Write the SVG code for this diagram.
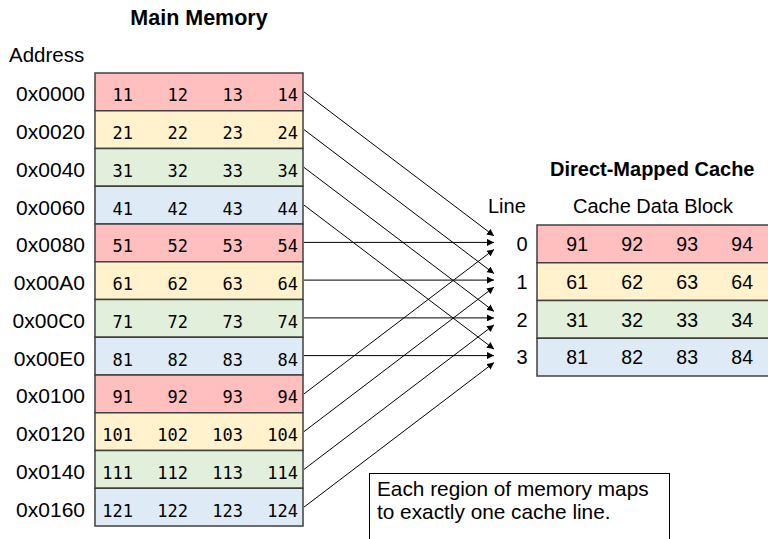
<svg xmlns="http://www.w3.org/2000/svg" width="768" height="539" viewBox="0 0 768 539">
<defs>
<style>
.t{font-family:"Liberation Sans",Arial,sans-serif;font-size:20px;fill:#000}
.ad{font-size:21px;text-anchor:end}
.b{font-weight:bold}
.m{font-family:"DejaVu Sans Mono","Liberation Mono",monospace;font-size:17px;fill:#000;text-anchor:end}
.c{font-family:"Liberation Sans",Arial,sans-serif;font-size:19.5px;fill:#000;text-anchor:end}
.r{fill:#FFBFBF}.y{fill:#FFF2CC}.g{fill:#E2EFDA}.u{fill:#DEEBF7}
.cell{stroke:#404040;stroke-width:1.5}
.a{stroke:#000;stroke-width:1;fill:none;marker-end:url(#ah)}
</style>
<marker id="ah" viewBox="0 0 8 8" refX="8" refY="4" markerWidth="7" markerHeight="7" markerUnits="userSpaceOnUse" orient="auto">
<path d="M0,0 L8,4 L0,8 z" fill="#000"/>
</marker>
</defs>
<rect width="768" height="539" fill="#fff"/>
<text class="t b" x="199" y="25" text-anchor="middle" style="font-size:21.5px">Main Memory</text>
<text class="t" x="9" y="62" style="font-size:20.5px">Address</text>
<g id="memory">
<g id="m0"><rect class="cell r" x="95" y="73" width="208" height="37.75"/><text class="t ad" x="85" y="101">0x0000</text><text class="m" x="133" y="101">11</text><text class="m" x="188" y="101">12</text><text class="m" x="243" y="101">13</text><text class="m" x="298" y="101">14</text></g>
<g id="m1"><rect class="cell y" x="95" y="110.75" width="208" height="37.75"/><text class="t ad" x="85" y="139">0x0020</text><text class="m" x="133" y="139">21</text><text class="m" x="188" y="139">22</text><text class="m" x="243" y="139">23</text><text class="m" x="298" y="139">24</text></g>
<g id="m2"><rect class="cell g" x="95" y="148.5" width="208" height="37.75"/><text class="t ad" x="85" y="177">0x0040</text><text class="m" x="133" y="177">31</text><text class="m" x="188" y="177">32</text><text class="m" x="243" y="177">33</text><text class="m" x="298" y="177">34</text></g>
<g id="m3"><rect class="cell u" x="95" y="186.25" width="208" height="37.75"/><text class="t ad" x="85" y="214.5">0x0060</text><text class="m" x="133" y="214.5">41</text><text class="m" x="188" y="214.5">42</text><text class="m" x="243" y="214.5">43</text><text class="m" x="298" y="214.5">44</text></g>
<g id="m4"><rect class="cell r" x="95" y="224" width="208" height="37.75"/><text class="t ad" x="85" y="252">0x0080</text><text class="m" x="133" y="252">51</text><text class="m" x="188" y="252">52</text><text class="m" x="243" y="252">53</text><text class="m" x="298" y="252">54</text></g>
<g id="m5"><rect class="cell y" x="95" y="261.75" width="208" height="37.75"/><text class="t ad" x="85" y="290">0x00A0</text><text class="m" x="133" y="290">61</text><text class="m" x="188" y="290">62</text><text class="m" x="243" y="290">63</text><text class="m" x="298" y="290">64</text></g>
<g id="m6"><rect class="cell g" x="95" y="299.5" width="208" height="37.75"/><text class="t ad" x="85" y="328">0x00C0</text><text class="m" x="133" y="328">71</text><text class="m" x="188" y="328">72</text><text class="m" x="243" y="328">73</text><text class="m" x="298" y="328">74</text></g>
<g id="m7"><rect class="cell u" x="95" y="337.25" width="208" height="37.75"/><text class="t ad" x="85" y="365.5">0x00E0</text><text class="m" x="133" y="365.5">81</text><text class="m" x="188" y="365.5">82</text><text class="m" x="243" y="365.5">83</text><text class="m" x="298" y="365.5">84</text></g>
<g id="m8"><rect class="cell r" x="95" y="375" width="208" height="37.75"/><text class="t ad" x="85" y="403">0x0100</text><text class="m" x="133" y="403">91</text><text class="m" x="188" y="403">92</text><text class="m" x="243" y="403">93</text><text class="m" x="298" y="403">94</text></g>
<g id="m9"><rect class="cell y" x="95" y="412.75" width="208" height="37.75"/><text class="t ad" x="85" y="441">0x0120</text><text class="m" x="133" y="441">101</text><text class="m" x="188" y="441">102</text><text class="m" x="243" y="441">103</text><text class="m" x="298" y="441">104</text></g>
<g id="m10"><rect class="cell g" x="95" y="450.5" width="208" height="37.75"/><text class="t ad" x="85" y="479">0x0140</text><text class="m" x="133" y="479">111</text><text class="m" x="188" y="479">112</text><text class="m" x="243" y="479">113</text><text class="m" x="298" y="479">114</text></g>
<g id="m11"><rect class="cell u" x="95" y="488.25" width="208" height="37.75"/><text class="t ad" x="85" y="516.5">0x0160</text><text class="m" x="133" y="516.5">121</text><text class="m" x="188" y="516.5">122</text><text class="m" x="243" y="516.5">123</text><text class="m" x="298" y="516.5">124</text></g>
</g>
<text class="t b" x="550" y="176">Direct-Mapped Cache</text>
<text class="t" x="488" y="213">Line</text>
<text class="t" x="573" y="213">Cache Data Block</text>
<g id="cache">
<g id="c0"><rect class="cell r" x="537" y="225" width="240" height="37.75"/><text class="t" x="522" y="251" text-anchor="middle">0</text><text class="c" x="588" y="251">91</text><text class="c" x="643" y="251">92</text><text class="c" x="698" y="251">93</text><text class="c" x="753" y="251">94</text></g>
<g id="c1"><rect class="cell y" x="537" y="262.75" width="240" height="37.75"/><text class="t" x="522" y="289" text-anchor="middle">1</text><text class="c" x="588" y="289">61</text><text class="c" x="643" y="289">62</text><text class="c" x="698" y="289">63</text><text class="c" x="753" y="289">64</text></g>
<g id="c2"><rect class="cell g" x="537" y="300.5" width="240" height="37.75"/><text class="t" x="522" y="326.5" text-anchor="middle">2</text><text class="c" x="588" y="326.5">31</text><text class="c" x="643" y="326.5">32</text><text class="c" x="698" y="326.5">33</text><text class="c" x="753" y="326.5">34</text></g>
<g id="c3"><rect class="cell u" x="537" y="338.25" width="240" height="37.75"/><text class="t" x="522" y="364" text-anchor="middle">3</text><text class="c" x="588" y="364">81</text><text class="c" x="643" y="364">82</text><text class="c" x="698" y="364">83</text><text class="c" x="753" y="364">84</text></g>
</g>
<g id="connectors">
<line class="a" x1="304" y1="91.9" x2="494" y2="235.9"/>
<line class="a" x1="304" y1="129.6" x2="494" y2="273.6"/>
<line class="a" x1="304" y1="167.4" x2="494" y2="311.4"/>
<line class="a" x1="304" y1="205.1" x2="494" y2="349.1"/>
<line class="a" x1="304" y1="242.4" x2="494" y2="242.4"/>
<line class="a" x1="304" y1="280.1" x2="494" y2="280.1"/>
<line class="a" x1="304" y1="317.9" x2="494" y2="317.9"/>
<line class="a" x1="304" y1="355.6" x2="494" y2="355.6"/>
<line class="a" x1="304" y1="393.9" x2="494" y2="249.4"/>
<line class="a" x1="304" y1="431.6" x2="494" y2="287.1"/>
<line class="a" x1="304" y1="469.4" x2="494" y2="324.9"/>
<line class="a" x1="304" y1="507.1" x2="494" y2="362.6"/>
</g>
<g id="note">
<rect x="369.5" y="473.5" width="300" height="80" fill="#fff" stroke="#000" stroke-width="1"/>
<text class="t" x="377" y="496" style="font-size:20.8px">Each region of memory maps</text>
<text class="t" x="377" y="519" style="font-size:20.8px">to exactly one cache line.</text>
</g>
</svg>
